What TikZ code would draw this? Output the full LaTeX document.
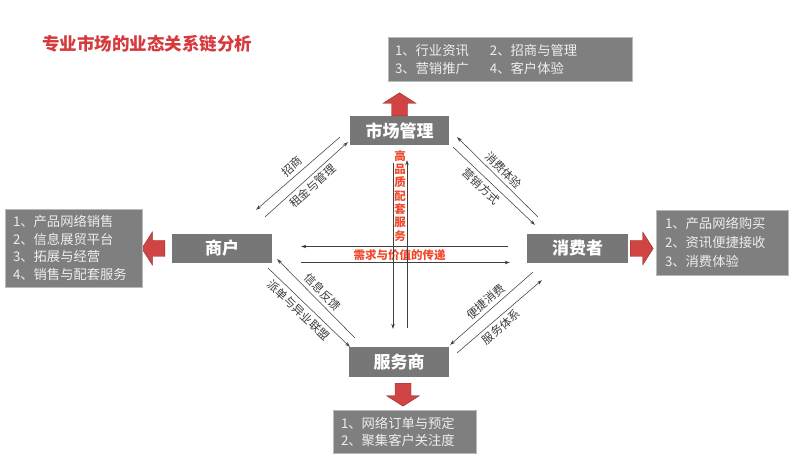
\documentclass[tikz,border=0pt]{standalone}
\usepackage{fontspec}
\setmainfont{Noto Sans CJK SC}
\usepackage{xcolor}
\definecolor{boxGray}{HTML}{777777}
\definecolor{listGray}{HTML}{7F7F7F}
\definecolor{listText}{HTML}{EEEEEE}
\definecolor{titleRed}{HTML}{D63A3C}
\definecolor{labelRed}{HTML}{F04A2E}
\definecolor{arrowRed}{HTML}{D04444}
\definecolor{lineGray}{HTML}{404040}
\definecolor{darkText}{HTML}{3C3C3C}
\usepackage{tikz}
\usetikzlibrary{
    arrows.meta,
    positioning,
    calc
}
\tikzset{
    % Base style for the four party boxes
    party/.style={
        rectangle,
        fill=boxGray,
        text=white,
        font=\fontsize{17}{20}\selectfont\bfseries,
        minimum width=100pt,
        minimum height=29pt,
        inner sep=0pt,
    },
    % Grey boxes with numbered items
    itemlist/.style={
        rectangle,
        fill=listGray,
        draw=listGray!55!white,
        line width=0.6pt,
        text=listText,
        font=\fontsize{13.3}{17.7}\selectfont,
        align=left,
        inner ysep=3pt,
    },
    % Red block arrows out of the boxes
    bigArrow/.style={
        fill=arrowRed,
        draw=arrowRed!70!black,
        line width=0.4pt,
        line join=miter,
    },
    pics/redArrow/.style={
        code={
            \filldraw [bigArrow] (0,-8) -- (12.5,-8) -- (12.5,-16.5) -- (23,0)
                -- (12.5,16.5) -- (12.5,8) -- (0,8) -- cycle;
        }
    },
    % Thin link arrows
    link/.style={
        -{Stealth[length=5pt, width=3.5pt]},
        draw=lineGray,
        line width=0.55pt,
    },
    % Rotated text beside the links
    link label/.style={
        font=\fontsize{11.5}{13}\selectfont,
        text=darkText,
        inner sep=3.5pt,
        sloped,
    },
    % Red text in the middle
    flow label/.style={
        font=\fontsize{11.5}{13.3}\selectfont\bfseries,
        text=labelRed,
        inner sep=0pt,
    },
}

\begin{document}
\begin{tikzpicture}[x=1pt, y=-1pt]
    \useasboundingbox (0,0) rectangle (795,462);
    \node (title) [anchor=west, text=titleRed, font=\fontsize{17.5}{20}\selectfont\bfseries, inner sep=0pt] at (42,44) {专业市场的业态关系链分析};

    \node (mgmt) [party, minimum width=99pt] at (399.5,130.5) {市场管理};
    \node (merchant) [party] at (222,248.5) {商户};
    \node (consumer) [party, minimum width=101pt] at (577.5,248.5) {消费者};
    \node (service) [party, minimum height=30pt] at (399,362) {服务商};

    % block arrows
    \pic (upArrow) [rotate=90] at (mgmt.north) {redArrow};
    \pic (leftArrow) [rotate=180] at ($(merchant.west)+(-7,0)$) {redArrow};
    \pic (rightArrow) at ($(consumer.east)+(2,0)$) {redArrow};
    \pic (downArrow) [rotate=-90] at ($(service.south)+(4,6)$) {redArrow};

    % item lists
    \node (topList) [itemlist, text width=230pt, inner xsep=7pt, minimum height=44pt, font=\fontsize{13.3}{18}\selectfont] at (510,59)
        {\makebox[95pt][l]{1、行业资讯}2、招商与管理\\\makebox[95pt][l]{3、营销推广}4、客户体验};
    \node (leftList) [itemlist, text width=121pt, inner xsep=8pt, minimum height=78pt] at (73.5,248)
        {1、产品网络销售\\2、信息展贸平台\\3、拓展与经营\\4、销售与配套服务};
    \node (rightList) [itemlist, text width=114pt, inner xsep=9pt, minimum height=65pt, font=\fontsize{13.3}{19}\selectfont] at (722,242.5)
        {1、产品网络购买\\2、资讯便捷接收\\3、消费体验};
    \node (bottomList) [itemlist, text width=127pt, inner xsep=8pt, minimum height=43pt, font=\fontsize{13.3}{17}\selectfont] at (404.5,431.5)
        {1、网络订单与预定\\2、聚集客户关注度};

    % links
    \draw [link] ($(mgmt.south west)+(-10,-8)$) -- node [link label, above] {招商} ($(merchant.north east)+(-16,-24)$);
    \draw [link] ($(merchant.north east)+(-7,-17)$) -- node [link label, below] {租金与管理} ($(mgmt.south west)+(-2,-3)$);
    \draw [link] ($(consumer.north west)+(11,-17)$) -- node [link label, above] {消费体验} ($(mgmt.south east)+(8,-8)$);
    \draw [link] ($(mgmt.south east)+(4,2)$) -- node [link label, below, pos=0.42] {营销方式} ($(consumer.north west)+(8,-9)$);
    \draw [link] ($(merchant.south east)+(-4,5)$) -- node [link label, below, pos=0.45] {派单与异业联盟} ($(service.north west)+(1,0)$);
    \draw [link] ($(service.north west)+(6,-9)$) -- node [link label, above] {信息反馈} ($(merchant.south east)+(5,-4)$);
    \draw [link] ($(consumer.south west)+(6,9)$) -- node [link label, above] {便捷消费} ($(service.north east)+(1,-2)$);
    \draw [link] ($(service.north east)+(8,6)$) -- node [link label, below, pos=0.45] {服务体系} ($(consumer.south west)+(15,17)$);

    \draw [link] ($(consumer.west)+(-19,-2)$) -- ($(merchant.east)+(29,-2)$);
    \draw [link] ($(merchant.east)+(29,14)$) -- ($(consumer.west)+(-17,14)$);
    \node (flowH) [flow label] at ($(merchant.east)!0.5!(consumer.west)+(0,6.5)$) {需求与价值的传递};

    \draw [link] ($(mgmt.south)+(-6.5,18)$) -- ($(service.north)+(-6,-18)$);
    \draw [link] ($(service.north)+(8,-19)$) -- ($(mgmt.south)+(7.5,15)$);
    \node (flowV) [flow label, align=center, anchor=north] at ($(mgmt.south)+(0.5,5)$) {高\\品\\质\\配\\套\\服\\务};
\end{tikzpicture}
\end{document}
